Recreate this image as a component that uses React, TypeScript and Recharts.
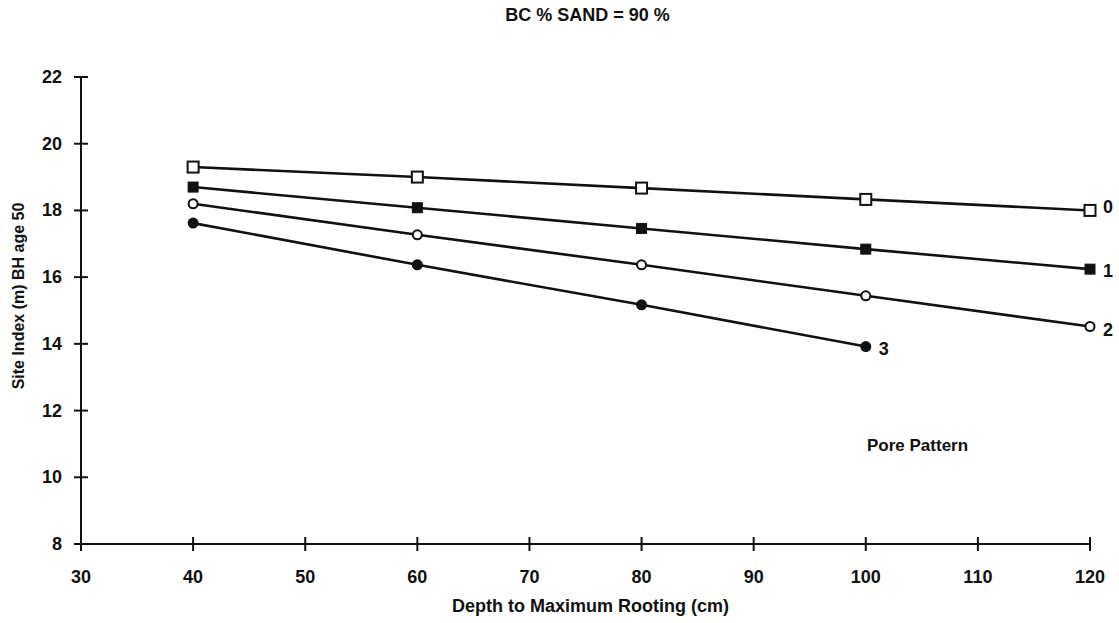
import { LineChart, Line, XAxis, YAxis } from 'recharts'

// Site index vs depth to maximum rooting, one line per pore pattern
const depth = [40, 60, 80, 100, 120]
const pattern0 = [19.3, 19.0, 18.67, 18.33, 18.0]
const pattern1 = [18.7, 18.08, 17.46, 16.84, 16.24]
const pattern2 = [18.2, 17.27, 16.37, 15.44, 14.52]
const pattern3 = [17.62, 16.37, 15.17, 13.92]

const xTicks = [30, 40, 50, 60, 70, 80, 90, 100, 110, 120]
const yTicks = [8, 10, 12, 14, 16, 18, 20, 22]
const seriesNames = ['0', '1', '2', '3']

const data = depth.map((d, i) => ({
  depth: d,
  p0: pattern0[i] ?? null,
  p1: pattern1[i] ?? null,
  p2: pattern2[i] ?? null,
  p3: pattern3[i] ?? null,
}))

const FONT = '"Liberation Sans", Arial, Helvetica, sans-serif'
const INK = '#111'

function XTick({ x, y, payload }: any) {
  return (
    <g>
      <line x1={x} x2={x} y1={y - 7} y2={y + 7} stroke={INK} strokeWidth={2} />
      <text x={x} y={y + 33} textAnchor="middle" dominantBaseline="central"
        fontFamily={FONT} fontWeight={700} fontSize={18} fill={INK}>
        {payload.value}
      </text>
    </g>
  )
}

function YTick({ x, y, payload }: any) {
  return (
    <g>
      <line x1={x - 7} x2={x + 7} y1={y} y2={y} stroke={INK} strokeWidth={2} />
      <text x={x - 19} y={y} textAnchor="end" dominantBaseline="central"
        fontFamily={FONT} fontWeight={700} fontSize={18} fill={INK}>
        {payload.value}
      </text>
    </g>
  )
}

// marker per pore pattern: open square, filled square, open circle, filled circle
function makeDot(kind: number) {
  return (props: any) => {
    const { cx, cy, index } = props
    const key = `d${kind}-${index}`
    if (cx == null || cy == null || props.value == null) return <g key={key} />
    if (kind === 0)
      return <rect key={key} x={cx - 5.5} y={cy - 5.5} width={11} height={11} fill="#fff" stroke={INK} strokeWidth={2} />
    if (kind === 1)
      return <rect key={key} x={cx - 5} y={cy - 5} width={10} height={10} fill={INK} stroke={INK} strokeWidth={1} />
    if (kind === 2)
      return <circle key={key} cx={cx} cy={cy} r={4.5} fill="#fff" stroke={INK} strokeWidth={2} />
    return <circle key={key} cx={cx} cy={cy} r={5.5} fill={INK} />
  }
}

function makeEndLabel(values: number[], name: string, dy: number) {
  const last = values.length - 1
  return (props: any) => {
    const { x, y, index } = props
    if (index !== last || x == null || y == null) return <g key={`l${name}-${index}`} />
    return (
      <text key={`l${name}-${index}`} x={x + 13} y={y + dy} dominantBaseline="central"
        fontFamily={FONT} fontWeight={700} fontSize={18} fill={INK}>
        {name}
      </text>
    )
  }
}

const seriesValues = [pattern0, pattern1, pattern2, pattern3]
const labelDy = [-3, 2, 3, 2]

export default function App() {
  return (
    <div style={{ position: 'absolute', left: 0, top: 0, width: 1119, height: 623, background: '#fff', fontFamily: FONT }}>
      <div style={{ position: 'absolute', left: 0, width: 1119, top: 5, textAlign: 'center', paddingLeft: 56, boxSizing: 'border-box', fontSize: 18, fontWeight: 700, color: INK }}>
        BC % SAND = 90 %
      </div>

      <LineChart width={1119} height={623} data={data}
        margin={{ top: 77, right: 29, left: 11, bottom: 19 }}>
        <XAxis
          dataKey="depth"
          type="number"
          domain={[30, 120]}
          ticks={xTicks}
          interval={0}
          height={60}
          tickSize={0}
          tickMargin={0}
          tickLine={false}
          axisLine={{ stroke: INK, strokeWidth: 2 }}
          tick={<XTick />}
        />
        <YAxis
          type="number"
          domain={[8, 22]}
          ticks={yTicks}
          interval={0}
          width={70}
          tickSize={0}
          tickMargin={0}
          tickLine={false}
          axisLine={{ stroke: INK, strokeWidth: 2 }}
          tick={<YTick />}
        />
        {seriesNames.map((name, k) => (
          <Line
            key={name}
            type="linear"
            dataKey={`p${k}`}
            stroke={INK}
            strokeWidth={2.6}
            dot={makeDot(k)}
            activeDot={false}
            label={makeEndLabel(seriesValues[k], name, labelDy[k])}
            isAnimationActive={false}
          />
        ))}
      </LineChart>

      <div style={{ position: 'absolute', left: 0, width: 1119, top: 596, textAlign: 'center', paddingLeft: 62, boxSizing: 'border-box', fontSize: 18, fontWeight: 700, color: INK }}>
        Depth to Maximum Rooting (cm)
      </div>

      <div style={{ position: 'absolute', left: 19, top: 296, transform: 'translate(-50%, -50%) rotate(-90deg)', whiteSpace: 'nowrap', fontSize: 16, fontWeight: 700, color: INK }}>
        Site Index (m) BH age 50
      </div>

      <div style={{ position: 'absolute', left: 867, top: 436, fontSize: 17, fontWeight: 700, color: INK, whiteSpace: 'nowrap' }}>
        Pore Pattern
      </div>
    </div>
  )
}
